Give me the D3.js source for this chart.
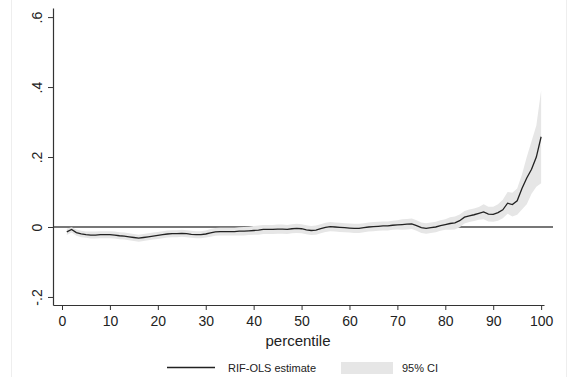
<!DOCTYPE html>
<html><head><meta charset="utf-8">
<script src="https://cdn.jsdelivr.net/npm/d3@7"></script>
<style>body{margin:0;background:#fff}svg{display:block;font-family:"Liberation Sans",Arial,sans-serif}</style>
</head><body><svg id="c" width="572" height="377"></svg>
<script>
const percentiles = d3.range(1, 101);
const estimate = [-0.014,-0.007,-0.016,-0.020,-0.022,-0.023,-0.023,-0.022,-0.022,-0.022,
-0.023,-0.025,-0.026,-0.028,-0.030,-0.032,-0.030,-0.028,-0.026,-0.024,
-0.022,-0.020,-0.019,-0.019,-0.018,-0.019,-0.021,-0.022,-0.022,-0.020,
-0.017,-0.014,-0.013,-0.013,-0.013,-0.013,-0.012,-0.012,-0.011,-0.010,
-0.009,-0.007,-0.007,-0.007,-0.006,-0.006,-0.007,-0.005,-0.004,-0.005,
-0.008,-0.010,-0.009,-0.005,-0.001,0.001,0.000,-0.001,-0.002,-0.003,
-0.004,-0.004,-0.002,0.000,0.001,0.002,0.003,0.003,0.005,0.006,
0.007,0.008,0.009,0.004,-0.002,-0.004,-0.002,0.000,0.004,0.007,
0.010,0.012,0.018,0.028,0.032,0.035,0.039,0.043,0.037,0.036,
0.041,0.049,0.068,0.064,0.075,0.110,0.140,0.165,0.200,0.258];
const ciLow = [-0.023,-0.016,-0.025,-0.029,-0.031,-0.033,-0.033,-0.032,-0.032,-0.032,
-0.033,-0.035,-0.036,-0.038,-0.040,-0.042,-0.040,-0.038,-0.036,-0.034,
-0.032,-0.030,-0.029,-0.029,-0.028,-0.029,-0.031,-0.032,-0.032,-0.030,
-0.028,-0.025,-0.024,-0.024,-0.024,-0.024,-0.024,-0.024,-0.023,-0.022,
-0.022,-0.020,-0.020,-0.020,-0.019,-0.019,-0.020,-0.018,-0.017,-0.018,
-0.021,-0.023,-0.022,-0.018,-0.014,-0.012,-0.013,-0.014,-0.015,-0.016,
-0.017,-0.017,-0.015,-0.013,-0.012,-0.011,-0.010,-0.010,-0.008,-0.007,
-0.008,-0.007,-0.006,-0.011,-0.017,-0.019,-0.017,-0.015,-0.011,-0.008,
-0.008,-0.007,-0.001,0.010,0.014,0.017,0.021,0.022,0.016,0.015,
0.018,0.025,0.038,0.030,0.035,0.050,0.065,0.095,0.115,0.125];
const ciHigh = [-0.005,-0.001,-0.007,-0.011,-0.013,-0.013,-0.013,-0.012,-0.012,-0.012,
-0.013,-0.015,-0.016,-0.018,-0.020,-0.022,-0.020,-0.018,-0.016,-0.014,
-0.012,-0.010,-0.009,-0.009,-0.008,-0.009,-0.011,-0.012,-0.012,-0.010,
-0.006,-0.003,-0.002,-0.002,-0.002,-0.002,-0.001,0.000,0.001,0.003,
0.004,0.006,0.006,0.006,0.007,0.007,0.006,0.008,0.009,0.008,
0.005,0.003,0.004,0.008,0.012,0.014,0.013,0.012,0.011,0.010,
0.009,0.009,0.011,0.013,0.014,0.015,0.016,0.016,0.018,0.019,
0.022,0.023,0.024,0.019,0.013,0.011,0.013,0.015,0.019,0.022,
0.028,0.030,0.036,0.046,0.050,0.053,0.057,0.065,0.058,0.058,
0.065,0.078,0.100,0.098,0.110,0.150,0.200,0.245,0.290,0.390];
const xTicks = [0,10,20,30,40,50,60,70,80,90,100];
const yTicks = [-0.2,0,0.2,0.4,0.6];
const yTickLabels = ["-.2","0",".2",".4",".6"];

const svg = d3.select("#c");
const x = d3.scaleLinear().domain([-1.88, 100.6]).range([53, 544]);
const y = d3.scaleLinear().domain([-0.223, 0.626]).range([305, 8]);

svg.append("line").attr("x1",11.5).attr("x2",11.5).attr("y1",0).attr("y2",377).attr("stroke","#eeeeee");
svg.append("line").attr("x1",566.5).attr("x2",566.5).attr("y1",0).attr("y2",377).attr("stroke","#eeeeee");

svg.append("line").attr("x1",53).attr("x2",553).attr("y1",y(0)).attr("y2",y(0))
  .attr("stroke","#4a4a4a").attr("stroke-width",1.3);

const data = percentiles.map((p,i)=>({p, e:estimate[i], lo:ciLow[i], hi:ciHigh[i]}));
svg.append("path").datum(data)
  .attr("d", d3.area().x(d=>x(d.p)).y0(d=>y(d.lo)).y1(d=>y(d.hi)))
  .attr("fill","#e6e6e6");
svg.append("path").datum(data)
  .attr("d", d3.line().x(d=>x(d.p)).y(d=>y(d.e)))
  .attr("fill","none").attr("stroke","#222").attr("stroke-width",1.3);

const xAxis = d3.axisBottom(x).tickValues(xTicks).tickSize(5).tickPadding(6).tickSizeOuter(0);
const gx = svg.append("g").attr("transform","translate(0,305)").call(xAxis);
gx.select(".domain").attr("stroke","#333").attr("stroke-width",1.2);
gx.selectAll(".tick line").attr("stroke","#333");
gx.selectAll("text").attr("font-size",14).attr("fill","#222").attr("font-family","Liberation Sans, Arial, sans-serif");

const yAxis = d3.axisLeft(y).tickValues(yTicks).tickFormat((d,i)=>yTickLabels[i]).tickSize(5).tickSizeOuter(0);
const gy = svg.append("g").attr("transform","translate(53,0)").call(yAxis);
gy.select(".domain").attr("stroke","#333").attr("stroke-width",1.2);
gy.selectAll(".tick line").attr("stroke","#333");
gy.selectAll("text").attr("font-size",14).attr("fill","#222").attr("font-family","Liberation Sans, Arial, sans-serif")
  .attr("text-anchor","middle").attr("x",0).attr("dy",null)
  .attr("transform","translate(-15,0) rotate(-90)").attr("dominant-baseline","middle");

svg.append("text").attr("x",298).attr("y",346).attr("text-anchor","middle")
  .attr("font-size",15).attr("fill","#222").text("percentile");

svg.append("line").attr("x1",167).attr("x2",215).attr("y1",367.5).attr("y2",367.5).attr("stroke","#222").attr("stroke-width",1.3);
svg.append("text").attr("x",228).attr("y",371.5).attr("font-size",11).attr("fill","#222").text("RIF-OLS estimate");
svg.append("rect").attr("x",341).attr("y",362).attr("width",52).attr("height",12).attr("fill","#e6e6e6");
svg.append("text").attr("x",402).attr("y",371.5).attr("font-size",11).attr("fill","#222").text("95% CI");
</script></body></html>
